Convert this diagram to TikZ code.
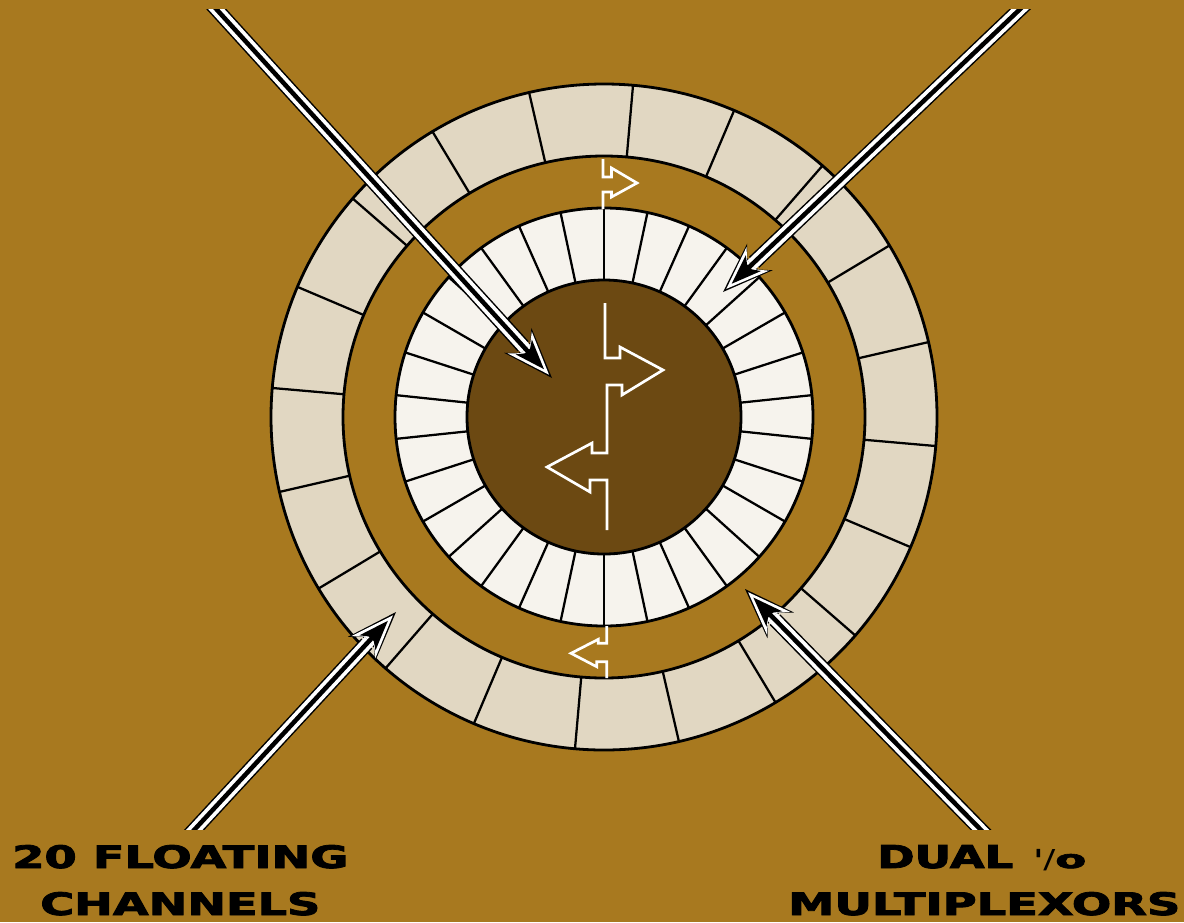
\documentclass[tikz,border=0pt]{standalone}
\usepackage{fontspec}
\usepackage{graphicx}
\usetikzlibrary{calc}
\newfontfamily\labfont{DejaVu Sans}[BoldFeatures={FakeBold=2.5}]
\newlength\pxu
\setlength\pxu{0.75pt}
\definecolor{bggold}{RGB}{168,121,31}
\definecolor{coredark}{RGB}{108,73,18}
\definecolor{ringbeige}{RGB}{225,215,194}
\definecolor{ringwhite}{RGB}{246,243,237}
\tikzset{
  ringline/.style={draw=black, line width=2.1pt},
  segline/.style={draw=black, line width=1.7pt},
  whitepath/.style={draw=white, line width=2pt, line join=miter, line cap=butt},
  labtext/.style={anchor=base west, inner sep=0pt, text=black},
  bigarrow/.pic={
    \draw[line width=11.25pt, black] (-700,0) -- (-43,0);
    \fill[black] (0,0) -- (-51,18.5) -- (-41,8) -- (-41,-8) -- (-51,-18.5) -- cycle;
    \draw[line width=9pt, white] (-700,0) -- (-39.5,0);
    \fill[white] (-4.5,0) -- (-48,16.3) -- (-39.5,6.5) -- (-39.5,-6.5) -- (-48,-16.3) -- cycle;
    \draw[line width=3.4pt, black] (-700,0) -- (-34,0);
    \fill[black] (-12,0) -- (-42,11) -- (-36.5,3.5) -- (-36.5,-3.5) -- (-42,-11) -- cycle;
  }
}
\begin{document}
\begin{tikzpicture}[x=0.75pt,y=-0.75pt]
\useasboundingbox (0,0) rectangle (1184,922);
\fill[bggold] (0,0) rectangle (1184,922);

\coordinate (c) at (604,417);

% outer ring of 20 channels
\begin{scope}[shift={(c)}]
  \fill[ringbeige] (0,0) circle[radius=333];
  \foreach \k in {0,...,19} {
    \draw[segline] (-85-18*\k:261) -- (-85-18*\k:333);
  }
  \fill[bggold] (0,0) circle[radius=261];
  \draw[ringline] (0,0) circle[radius=333];
  \draw[ringline] (0,0) circle[radius=261];

  % inner ring
  \fill[ringwhite] (0,0) circle[radius=209];
  \foreach \k in {0,...,29} {
    \draw[segline] (6+12*\k:137) -- (6+12*\k:209);
  }
  \fill[coredark] (0,0) circle[radius=137];
  \draw[ringline] (0,0) circle[radius=209];
  \draw[ringline] (0,0) circle[radius=137];
\end{scope}

% small arrows in the band
\draw[whitepath] (603,159) -- (603,177) -- (611.5,177) -- (611.5,168) -- (637,183)
  -- (611.5,197) -- (611.5,192) -- (603,192) -- (603,209);
\draw[whitepath] (606.7,626) -- (606.7,643.3) -- (598.3,643.3) -- (598.3,639.3) -- (571,653.3)
  -- (596.7,666.7) -- (596.7,661.7) -- (606.7,661.7) -- (606.7,678);

% central symbol
\draw[whitepath] (605,303) -- (605,358) -- (620,358) -- (620,347) -- (663,370)
  -- (622,395) -- (622,385) -- (607,385) -- (607,453) -- (592,453) -- (592,443)
  -- (547,467) -- (590,492) -- (590,480) -- (607,480) -- (607,530);

% big arrows
\coordinate (t1) at (552,378);
\coordinate (t2) at (723,292);
\coordinate (t3) at (396,612);
\coordinate (t4) at (745,589);
\begin{scope}
  \clip (0,9) rectangle (1184,829);
  \pic[rotate=-47.7] at (t1) {bigarrow};
  \pic[rotate=-136.4] at (t2) {bigarrow};
  \pic[rotate=47.2] at (t3) {bigarrow};
  \pic[rotate=134.4] at (t4) {bigarrow};
\end{scope}

% labels
\node[labtext] (lab1) at (12,868) {\resizebox{336\pxu}{23\pxu}{\labfont\bfseries 20 FLOATING}};
\node[labtext] (lab2) at (40,915) {\resizebox{280\pxu}{23\pxu}{\labfont\bfseries CHANNELS}};
\node[labtext] (lab3) at (877,868) {\resizebox{136\pxu}{23\pxu}{\labfont\bfseries DUAL}\hspace{22\pxu}\raisebox{11\pxu}{\resizebox{6\pxu}{8\pxu}{\labfont\bfseries I}}\hspace{2\pxu}\resizebox{12\pxu}{19\pxu}{\labfont /}\resizebox{31\pxu}{14\pxu}{\labfont\bfseries o}};
\node[labtext] (lab4) at (788,915) {\resizebox{392\pxu}{23\pxu}{\labfont\bfseries MULTIPLEXORS}};
\end{tikzpicture}
\end{document}
